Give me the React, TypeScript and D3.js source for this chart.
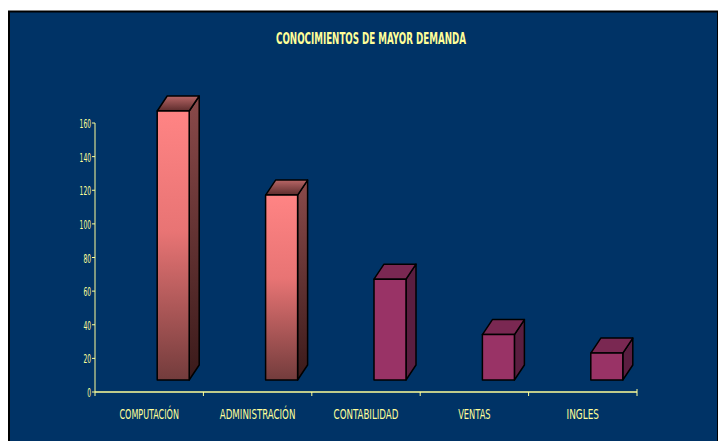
import React from "react";
import * as d3 from "d3";

const categories = ["COMPUTACIÓN", "ADMINISTRACIÓN", "CONTABILIDAD", "VENTAS", "INGLES"];
const values = [160, 110, 60, 27, 16];
const gradientBars = [true, true, false, false, false];
const yTicks = [0, 20, 40, 60, 80, 100, 120, 140, 160];
const title = "CONOCIMIENTOS DE MAYOR DEMANDA";

const W = 718;
const H = 441;
const TEXT = "#ffff99";
const BG = "#003366";
const FONT = "'Liberation Sans Narrow', 'Arial Narrow', 'DejaVu Sans Condensed', Arial, sans-serif";

export default function App() {
  const x = d3.scaleBand<string>().domain(categories).range([95, 637]).padding(0);
  const y = d3.scaleLinear().domain([0, 160]).range([392, 123]);

  const barW = 32;
  const shiftX = 24; // depth shift of bars behind the axis
  const shiftY = -12;
  const dx = 10;
  const dy = -15;

  return (
    <svg
      width={W}
      height={H}
      style={{ position: "absolute", left: 0, top: 0, background: "#ffffff" }}
    >
      <defs>
        <linearGradient id="frontGrad" x1="0" y1="0" x2="0" y2="1">
          <stop offset="0" stopColor="#ff8484" />
          <stop offset="0.45" stopColor="#e87474" />
          <stop offset="1" stopColor="#733c3c" />
        </linearGradient>
        <linearGradient id="sideGrad" x1="0" y1="0" x2="0" y2="1">
          <stop offset="0" stopColor="#8a4a4a" />
          <stop offset="1" stopColor="#3a1a1a" />
        </linearGradient>
        <linearGradient id="topGrad" x1="0" y1="0" x2="0" y2="1">
          <stop offset="0" stopColor="#b86666" />
          <stop offset="1" stopColor="#5c2c2c" />
        </linearGradient>
      </defs>
      <rect x={8} y={11} width={W - 9} height={H - 11} fill={BG} />
      <line x1={8} y1={11.5} x2={W} y2={11.5} stroke="#000" strokeWidth={2} />
      <line x1={9} y1={11} x2={9} y2={H} stroke="#000" strokeWidth={2} />
      <line x1={W - 0.5} y1={11} x2={W - 0.5} y2={H} stroke="#000" strokeWidth={1} />

      <text
        x={371}
        y={44}
        textAnchor="middle"
        fill={TEXT}
        fontFamily={FONT}
        fontWeight="bold"
        fontSize={15}
        textLength={190}
        lengthAdjust="spacingAndGlyphs"
      >
        {title}
      </text>

      {/* bars */}
      {categories.map((c, i) => {
        const cx = (x(c) as number) + x.bandwidth() / 2 + shiftX;
        const x0 = cx - barW / 2;
        const x1 = cx + barW / 2;
        const yb = y(0) + shiftY;
        const yt = y(values[i]) + shiftY;
        const grad = gradientBars[i];
        const front = grad ? "url(#frontGrad)" : "#993366";
        const side = grad ? "url(#sideGrad)" : "#5a1e40";
        const top = grad ? "url(#topGrad)" : "#7a2852";
        return (
          <g key={c} stroke="#000" strokeWidth={1.5} strokeLinejoin="round">
            <path
              d={`M${x1},${yt} L${x1 + dx},${yt + dy} L${x1 + dx},${yb + dy} L${x1},${yb} Z`}
              fill={side}
            />
            <path
              d={`M${x0},${yt} L${x0 + dx},${yt + dy} L${x1 + dx},${yt + dy} L${x1},${yt} Z`}
              fill={top}
            />
            <rect x={x0} y={yt} width={barW} height={yb - yt} fill={front} />
          </g>
        );
      })}

      {/* y axis */}
      <line x1={95} y1={y(160)} x2={95} y2={y(0)} stroke={TEXT} strokeWidth={1} />
      {yTicks.map((t) => (
        <g key={t}>
          <line x1={92} y1={y(t)} x2={95} y2={y(t)} stroke={TEXT} strokeWidth={1} />
          <text
            x={91}
            y={y(t) + 5}
            textAnchor="end"
            fill={TEXT}
            fontFamily={FONT}
            fontSize={13}
            textLength={String(t).length * 3.8}
            lengthAdjust="spacingAndGlyphs"
          >
            {t}
          </text>
        </g>
      ))}

      {/* x axis */}
      <line x1={95} y1={y(0)} x2={637} y2={y(0)} stroke={TEXT} strokeWidth={1.5} />
      {categories.map((c, i) => {
        const xt = (x(c) as number) + x.bandwidth();
        const last = i === categories.length - 1;
        return (
          <line
            key={"t" + c}
            x1={xt}
            y1={last ? y(0) - 3 : y(0)}
            x2={xt}
            y2={y(0) + 4}
            stroke={TEXT}
            strokeWidth={1}
          />
        );
      })}
      <line x1={95} y1={y(0)} x2={95} y2={y(0) + 4} stroke={TEXT} strokeWidth={1} />
      {categories.map((c) => (
        <text
          key={"l" + c}
          x={(x(c) as number) + x.bandwidth() / 2}
          y={419}
          textAnchor="middle"
          fill={TEXT}
          fontFamily={FONT}
          fontSize={14}
          textLength={c.length * 5.4}
          lengthAdjust="spacingAndGlyphs"
        >
          {c}
        </text>
      ))}
    </svg>
  );
}
